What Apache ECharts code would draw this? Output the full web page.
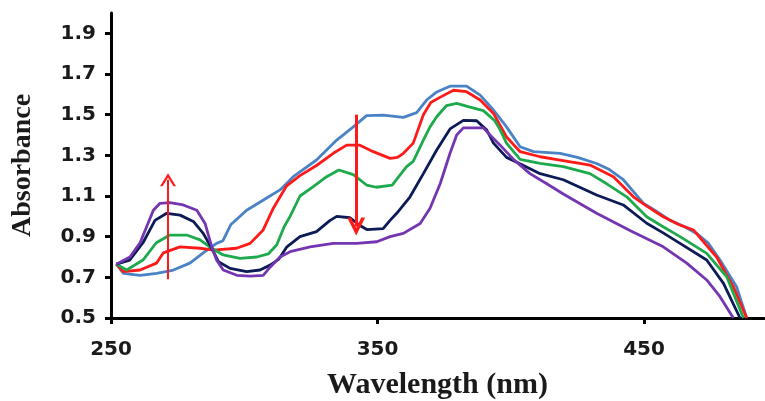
<!DOCTYPE html>
<html>
<head>
<meta charset="utf-8">
<script src="https://cdn.jsdelivr.net/npm/echarts@6/dist/echarts.min.js"></script>
<style>
  html, body { margin: 0; padding: 0; background: #fff; }
  #chart { width: 765px; height: 401px; }
</style>
</head>
<body>
<div id="chart"></div>
<script>
// Absorption spectra recorded over time (wavelength in nm, absorbance)
const xTicks = [250, 350, 450];
const yTicks = [0.5, 0.7, 0.9, 1.1, 1.3, 1.5, 1.7, 1.9];

const spectrumBlue = [
  [252, 0.765], [254.6, 0.72], [260.9, 0.71], [267.1, 0.72], [273.4, 0.736], [279.6, 0.77],
  [284.6, 0.82], [289.6, 0.867], [292, 0.88], [295, 0.96], [300.9, 1.03], [307.2, 1.08],
  [313.4, 1.13], [318.4, 1.195], [327.1, 1.277], [334.7, 1.375], [340.9, 1.44], [345.9, 1.495],
  [352.2, 1.498], [359.7, 1.487], [364.7, 1.51], [368.4, 1.572], [372, 1.61], [377.2, 1.64],
  [383.4, 1.64], [388.5, 1.596], [393.5, 1.523], [398.4, 1.44], [403.5, 1.342], [408.5, 1.318],
  [418.5, 1.31], [425, 1.29], [432.2, 1.26], [437, 1.23], [442.2, 1.18], [449.8, 1.064],
  [454, 1.03], [459.8, 0.98], [465, 0.95], [469.7, 0.916], [474, 0.87], [478.5, 0.785],
  [484.7, 0.654], [488.5, 0.5]
];
const spectrumRed = [
  [252, 0.765], [254.6, 0.728], [260.9, 0.736], [267.1, 0.77], [269.6, 0.82], [275.9, 0.85],
  [283.4, 0.843], [288.4, 0.834], [297.1, 0.843], [302.2, 0.867], [307.1, 0.933], [310.9, 1.04],
  [315.9, 1.15], [320.9, 1.2], [327.1, 1.25], [333.4, 1.31], [338.4, 1.35], [343.4, 1.35],
  [348.4, 1.318], [354.7, 1.285], [357.5, 1.29], [359.7, 1.31], [363.4, 1.36], [367.2, 1.5],
  [370, 1.56], [373.4, 1.585], [378.5, 1.62], [383.4, 1.613], [388.5, 1.572], [393.5, 1.506],
  [398.4, 1.39], [403.5, 1.318], [411, 1.293], [418.5, 1.277], [429.7, 1.252], [438.5, 1.195],
  [446, 1.096], [451, 1.05], [457.2, 0.998], [463, 0.96], [468.5, 0.933], [472, 0.88],
  [477.2, 0.8], [483.5, 0.654], [488.5, 0.5]
];
const spectrumGreen = [
  [252, 0.765], [255.9, 0.736], [262, 0.785], [267, 0.87], [272.1, 0.908], [278.4, 0.908],
  [283.4, 0.884], [287.8, 0.843], [292.1, 0.81], [298.4, 0.793], [304.7, 0.8], [309, 0.815],
  [312.2, 0.86], [315, 0.95], [317.2, 1.0], [320.9, 1.1], [325.9, 1.146], [330.9, 1.195],
  [335.5, 1.228], [340.9, 1.205], [345.9, 1.154], [349.5, 1.143], [355.5, 1.154], [360.9, 1.244],
  [363.4, 1.27], [367.2, 1.375], [369.7, 1.44], [372.2, 1.49], [375.9, 1.545], [379.7, 1.556],
  [384, 1.54], [389.7, 1.52], [394, 1.47], [396, 1.425], [398.4, 1.36], [403.5, 1.28],
  [411, 1.26], [419.7, 1.244], [429.7, 1.21], [436, 1.16], [443.5, 1.096], [451, 0.998],
  [457, 0.95], [463.5, 0.9], [473.5, 0.818], [481, 0.703], [487.3, 0.5]
];
const spectrumNavy = [
  [252, 0.765], [257, 0.785], [262, 0.87], [266.5, 0.98], [270.9, 1.015], [275.9, 1.006],
  [280.9, 0.975], [284.6, 0.916], [287.8, 0.843], [290.3, 0.777], [294.7, 0.744], [300.9, 0.728],
  [305.9, 0.736], [309.7, 0.76], [313, 0.79], [316, 0.85], [320.9, 0.9], [327.1, 0.925],
  [332.2, 0.98], [334.7, 1.0], [339.7, 0.993], [343.4, 0.955], [346, 0.935], [352.1, 0.94],
  [354.7, 0.98], [357.2, 1.015], [362.2, 1.096], [367.2, 1.21], [372.2, 1.326], [377.2, 1.43],
  [382.2, 1.472], [387.2, 1.47], [391, 1.424], [393.5, 1.36], [398.4, 1.29], [404, 1.255],
  [411, 1.21], [419.7, 1.18], [432.2, 1.105], [442.2, 1.056], [451, 0.966], [457, 0.92],
  [463.5, 0.867], [473.5, 0.785], [479.8, 0.67], [486, 0.5]
];
const spectrumPurple = [
  [252, 0.765], [257.1, 0.8], [260.9, 0.87], [265.9, 1.03], [268.4, 1.064], [272.1, 1.067],
  [277.1, 1.056], [282.2, 1.03], [285.3, 0.965], [287.8, 0.85], [289.6, 0.785], [292.1, 0.736],
  [297.2, 0.71], [302.2, 0.706], [307.1, 0.71], [309.7, 0.75], [313.4, 0.8], [317.2, 0.826],
  [324.7, 0.85], [333.4, 0.867], [342.2, 0.867], [349.7, 0.875], [354.7, 0.9], [359.7, 0.916],
  [366, 0.965], [369.7, 1.04], [373.5, 1.16], [377.2, 1.31], [379.7, 1.4], [382.2, 1.435],
  [389.7, 1.435], [392.2, 1.4], [396, 1.35], [401, 1.28], [407.2, 1.21], [413.5, 1.16],
  [419.7, 1.11], [432.2, 1.015], [444.7, 0.93], [457.2, 0.85], [466, 0.77], [473.5, 0.687],
  [478.5, 0.605], [483.5, 0.5]
];

// Trend arrows: rising band near 271 nm, falling band near 342 nm
const arrowRise = [[271.4, 0.69], [271.4, 1.18]];
const arrowFall = [[342, 1.5], [342, 0.95]];

const chevron = 'path://M0,10 L5,0 L10,10 L8.4,10 L5,3.2 L1.6,10 Z';
const chevronBold = 'path://M0,10 L5,0 L10,10 L7.8,10 L5,4.2 L2.2,10 Z';

function spectrum(data, color) {
  return {
    type: 'line',
    data: data,
    showSymbol: false,
    smooth: false,
    silent: true,
    lineStyle: { color: color, width: 2.8 },
    z: 3
  };
}

const chart = echarts.init(document.getElementById('chart'), null, { renderer: 'canvas' });
chart.setOption({
  animation: false,
  backgroundColor: '#ffffff',
  grid: { left: 111, right: 1, top: 13, bottom: 83, containLabel: false, outerBoundsMode: 'none' },
  xAxis: {
    type: 'value',
    min: 250,
    max: 495,
    name: 'Wavelength (nm)',
    nameLocation: 'middle',
    nameGap: 52,
    nameTextStyle: { fontFamily: 'Liberation Serif', fontWeight: 'bold', fontSize: 30, color: '#1a1a1a' },
    axisLine: { lineStyle: { color: '#000', width: 3 } },
    axisTick: { show: true, customValues: xTicks, length: 6, lineStyle: { color: '#000', width: 3 } },
    axisLabel: {
      customValues: xTicks,
      margin: 22,
      fontFamily: 'DejaVu Sans', fontWeight: 'bold', fontSize: 20, color: '#1a1a1a'
    },
    splitLine: { show: false }
  },
  yAxis: {
    type: 'value',
    min: 0.5,
    max: 2.0,
    name: 'Absorbance',
    nameLocation: 'middle',
    nameGap: 74,
    nameTextStyle: { fontFamily: 'Liberation Serif', fontWeight: 'bold', fontSize: 28, color: '#1a1a1a' },
    axisLine: { lineStyle: { color: '#000', width: 3 } },
    axisTick: { show: true, customValues: yTicks, length: 6, lineStyle: { color: '#000', width: 3 } },
    axisLabel: {
      customValues: yTicks,
      margin: 15,
      formatter: v => v.toFixed(1),
      fontFamily: 'DejaVu Sans', fontWeight: 'bold', fontSize: 20, color: '#1a1a1a'
    },
    splitLine: { show: false }
  },
  series: [
    spectrum(spectrumBlue, '#4a82c6'),
    spectrum(spectrumRed, '#ff1a1a'),
    spectrum(spectrumGreen, '#1daa4c'),
    spectrum(spectrumNavy, '#0c1a55'),
    spectrum(spectrumPurple, '#7436b0'),
    {
      type: 'line',
      data: [],
      silent: true,
      markLine: {
        silent: true,
        animation: false,
        label: { show: false },
        emphasis: { disabled: true },
        data: [
          [
            { coord: arrowRise[0], symbol: 'none', lineStyle: { color: '#ff1a1a', width: 2, type: 'solid' } },
            { coord: arrowRise[1], symbol: chevron, symbolSize: [16, 13] }
          ],
          [
            { coord: arrowFall[0], symbol: 'none', lineStyle: { color: '#ff1a1a', width: 3, type: 'solid' } },
            { coord: arrowFall[1], symbol: chevronBold, symbolSize: [18, 18] }
          ]
        ]
      },
      z: 5
    }
  ]
});
</script>
</body>
</html>
